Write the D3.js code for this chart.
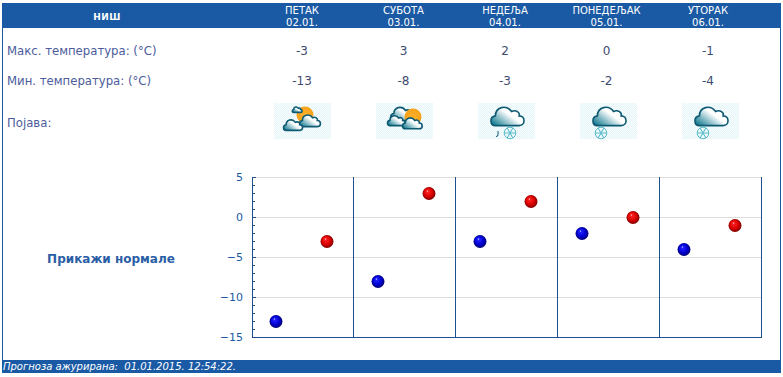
<!DOCTYPE html>
<html>
<head>
<meta charset="utf-8">
<script src="https://cdnjs.cloudflare.com/ajax/libs/d3/7.8.5/d3.min.js"></script>
<style>
  html, body { margin: 0; padding: 0; background: #fff; overflow: hidden; }
  text { font-family: "DejaVu Sans", Verdana, sans-serif; }
  .axis .domain { stroke: #1f5090; stroke-width: 1; }
  .axis .tick line { stroke: #1f5090; }
  .axis .tick text { fill: #1a5aa5; font-size: 11px; }
</style>
</head>
<body>
<div id="chart"></div>
<script>
const city = 'НИШ';
const days = ['ПЕТАК', 'СУБОТА', 'НЕДЕЉА', 'ПОНЕДЕЉАК', 'УТОРАК'];
const dates = ['02.01.', '03.01.', '04.01.', '05.01.', '06.01.'];
const maxTemps = [-3, 3, 2, 0, -1];
const minTemps = [-13, -8, -3, -2, -4];
const icons = ['partly', 'cloudySun', 'snowRain', 'snow', 'snow'];
const rowLabels = ['Макс. температура: (°C)', 'Мин. температура: (°C)', 'Појава:'];
const yMajor = [5, 0, -5, -10, -15];
const yMinor = d3.range(-15, 6);
const normalsLabel = 'Прикажи нормале';
const updatedLabel = 'Прогноза ажурирана:  01.01.2015. 12:54:22.';

const width = 783, height = 377;
const blue = '#1a5aa5';
const lineBlue = '#1f5090';

const svg = d3.select('#chart').append('svg')
  .attr('width', width).attr('height', height)
  .style('display', 'block');

const defs = svg.append('defs');

// Shiny ball fills
function ballGradient(id, light, mid, dark) {
  const g = defs.append('radialGradient').attr('id', id)
    .attr('cx', 0.5).attr('cy', 0.5).attr('r', 0.55)
    .attr('fx', 0.36).attr('fy', 0.3);
  g.append('stop').attr('offset', '0%').attr('stop-color', '#fff');
  g.append('stop').attr('offset', '14%').attr('stop-color', light);
  g.append('stop').attr('offset', '60%').attr('stop-color', mid);
  g.append('stop').attr('offset', '100%').attr('stop-color', dark);
}
ballGradient('ballRed', '#f22', '#d80000', '#6a0000');
ballGradient('ballBlue', '#22f', '#0000d0', '#00005e');

// Icon fills
const cloudFill = defs.append('linearGradient').attr('id', 'cloudFill')
  .attr('x1', 0).attr('y1', 0.9).attr('x2', 0.85).attr('y2', 0.25);
cloudFill.append('stop').attr('offset', '0%').attr('stop-color', '#08758c');
cloudFill.append('stop').attr('offset', '70%').attr('stop-color', '#ffffff');
const sunFill = defs.append('radialGradient').attr('id', 'sunFill');
sunFill.append('stop').attr('offset', '0%').attr('stop-color', '#fdb22a');
sunFill.append('stop').attr('offset', '100%').attr('stop-color', '#f7a11a');
const hatch = defs.append('pattern').attr('id', 'iconBg')
  .attr('width', 2).attr('height', 2).attr('patternUnits', 'userSpaceOnUse');
hatch.append('rect').attr('width', 2).attr('height', 2).attr('fill', '#fafdfe');
hatch.append('rect').attr('width', 1).attr('height', 1).attr('fill', '#e4f6fa');
hatch.append('rect').attr('x', 1).attr('y', 1).attr('width', 1).attr('height', 1).attr('fill', '#e4f6fa');

// Frame and bands
svg.append('rect').attr('x', 2.5).attr('y', 3.5).attr('width', 778).attr('height', 369)
  .attr('fill', '#fff').attr('stroke', blue);
svg.append('rect').attr('x', 2).attr('y', 3).attr('width', 779).attr('height', 25).attr('fill', blue);
svg.append('rect').attr('x', 2).attr('y', 360).attr('width', 779).attr('height', 13).attr('fill', blue);

svg.append('text').attr('x', 107).attr('y', 20)
  .attr('text-anchor', 'middle').attr('fill', '#fff')
  .attr('font-size', 9).attr('font-weight', 'bold').attr('letter-spacing', 0.4)
  .text(city);

// Table columns
const colX = d3.scalePoint().domain(days).range([302, 708]);
const iconX = d3.scalePoint().domain(days).range([274, 682]);

days.forEach((d, i) => {
  const x = colX(d);
  svg.append('text').attr('x', x).attr('y', 14).attr('text-anchor', 'middle')
    .attr('fill', '#fff').attr('font-size', 10).text(d);
  svg.append('text').attr('x', x).attr('y', 26).attr('text-anchor', 'middle')
    .attr('fill', '#fff').attr('font-size', 10).text(dates[i]);
  svg.append('text').attr('x', x).attr('y', 55).attr('text-anchor', 'middle')
    .attr('fill', '#3c4a70').attr('font-size', 12).text(maxTemps[i]);
  svg.append('text').attr('x', x).attr('y', 85).attr('text-anchor', 'middle')
    .attr('fill', '#3c4a70').attr('font-size', 12).text(minTemps[i]);
  drawIcon(svg.append('g').attr('transform', `translate(${iconX(d)},103)`), icons[i]);
});

[55, 85, 127].forEach((y, i) => {
  svg.append('text').attr('x', 7).attr('y', y)
    .attr('fill', '#4c5c9c').attr('font-size', 11.7).text(rowLabels[i]);
});

function cloud(g, x, y, k) {
  g.append('path')
    .attr('transform', `translate(${x},${y}) scale(${k})`)
    .attr('d', 'M5,20 C0,20 -1,12 5,11 C5,3 15,0 20,7 C24,5 28,8 27,11 C33,11 33,20 27,20 Z')
    .attr('fill', 'url(#cloudFill)')
    .attr('stroke', '#0e5a72').attr('stroke-width', 1.6 / k);
}

function flake(g, x, y) {
  const f = g.append('g').attr('stroke', '#58bccb').attr('stroke-width', 1).attr('fill', 'none');
  f.append('circle').attr('cx', x).attr('cy', y).attr('r', 5.8);
  [0, 60, 120].forEach(a => {
    f.append('line').attr('x1', x - 5.8).attr('x2', x + 5.8).attr('y1', y).attr('y2', y)
      .attr('transform', `rotate(${a},${x},${y})`);
  });
}

function drawIcon(g, type) {
  g.append('rect').attr('width', 57).attr('height', 36).attr('fill', 'url(#iconBg)');
  if (type === 'partly') {
    g.append('circle').attr('cx', 31).attr('cy', 12).attr('r', 8.5).attr('fill', 'url(#sunFill)');
    cloud(g, 18, 3, 0.32);
    cloud(g, 25, 10, 0.68);
    cloud(g, 9, 15, 0.62);
  } else if (type === 'cloudySun') {
    cloud(g, 14, 2, 0.78);
    g.append('circle').attr('cx', 37).attr('cy', 14).attr('r', 8.5).attr('fill', 'url(#sunFill)');
    cloud(g, 11, 11, 0.58);
    cloud(g, 26, 13, 0.64);
  } else {
    cloud(g, 12, 1, 1.08);
    flake(g, type === 'snowRain' ? 32 : 21, 30);
    if (type === 'snowRain') {
      g.append('path').attr('d', 'M20,28 v4 q0,1.5 -2,1.5').attr('fill', 'none')
        .attr('stroke', '#0e5a72').attr('stroke-width', 1);
    }
  }
}

// Chart
const y = d3.scaleLinear().domain([-15, 5]).range([337, 177]);
const x = d3.scaleBand().domain(days).range([252, 762]);
const inner = d3.scalePoint().domain(['min', 'max']).range([24, 75]);

svg.append('g').selectAll('line').data(yMajor.slice(0, -1)).join('line')
  .attr('x1', 252).attr('x2', 762)
  .attr('y1', d => y(d) + 0.5).attr('y2', d => y(d) + 0.5)
  .attr('stroke', '#dcdcdc');

svg.append('g').selectAll('line').data(days).join('line')
  .attr('x1', d => x(d) + x.bandwidth() - 0.5)
  .attr('x2', d => x(d) + x.bandwidth() - 0.5)
  .attr('y1', y(5)).attr('y2', y(-15))
  .attr('stroke', lineBlue);

svg.append('line').attr('x1', 252).attr('x2', 762)
  .attr('y1', y(-15) + 0.5).attr('y2', y(-15) + 0.5).attr('stroke', lineBlue);

svg.append('g').attr('class', 'axis')
  .attr('transform', 'translate(252,0)')
  .call(d3.axisLeft(y).tickValues(yMinor.filter(d => !yMajor.includes(d)))
    .tickSizeInner(-3).tickSizeOuter(0).tickFormat(''));

svg.append('g').attr('class', 'axis')
  .attr('transform', 'translate(252,0)')
  .call(d3.axisLeft(y).tickValues(yMajor)
    .tickSizeInner(-4).tickSizeOuter(0).tickPadding(9));

days.forEach((d, i) => {
  svg.append('circle').attr('cx', x(d) + inner('min')).attr('cy', y(minTemps[i]) + 0.5)
    .attr('r', 6.5).attr('fill', 'url(#ballBlue)');
  svg.append('circle').attr('cx', x(d) + inner('max')).attr('cy', y(maxTemps[i]) + 0.5)
    .attr('r', 6.5).attr('fill', 'url(#ballRed)');
});

svg.append('text').attr('x', 111).attr('y', 263).attr('text-anchor', 'middle')
  .attr('fill', '#2a5ea5').attr('font-size', 12).attr('font-weight', 'bold')
  .text(normalsLabel);

svg.append('text').attr('x', 3).attr('y', 370).attr('fill', '#fff')
  .attr('font-size', 10).attr('font-style', 'italic')
  .style('white-space', 'pre')
  .text(updatedLabel);
</script>
</body>
</html>
